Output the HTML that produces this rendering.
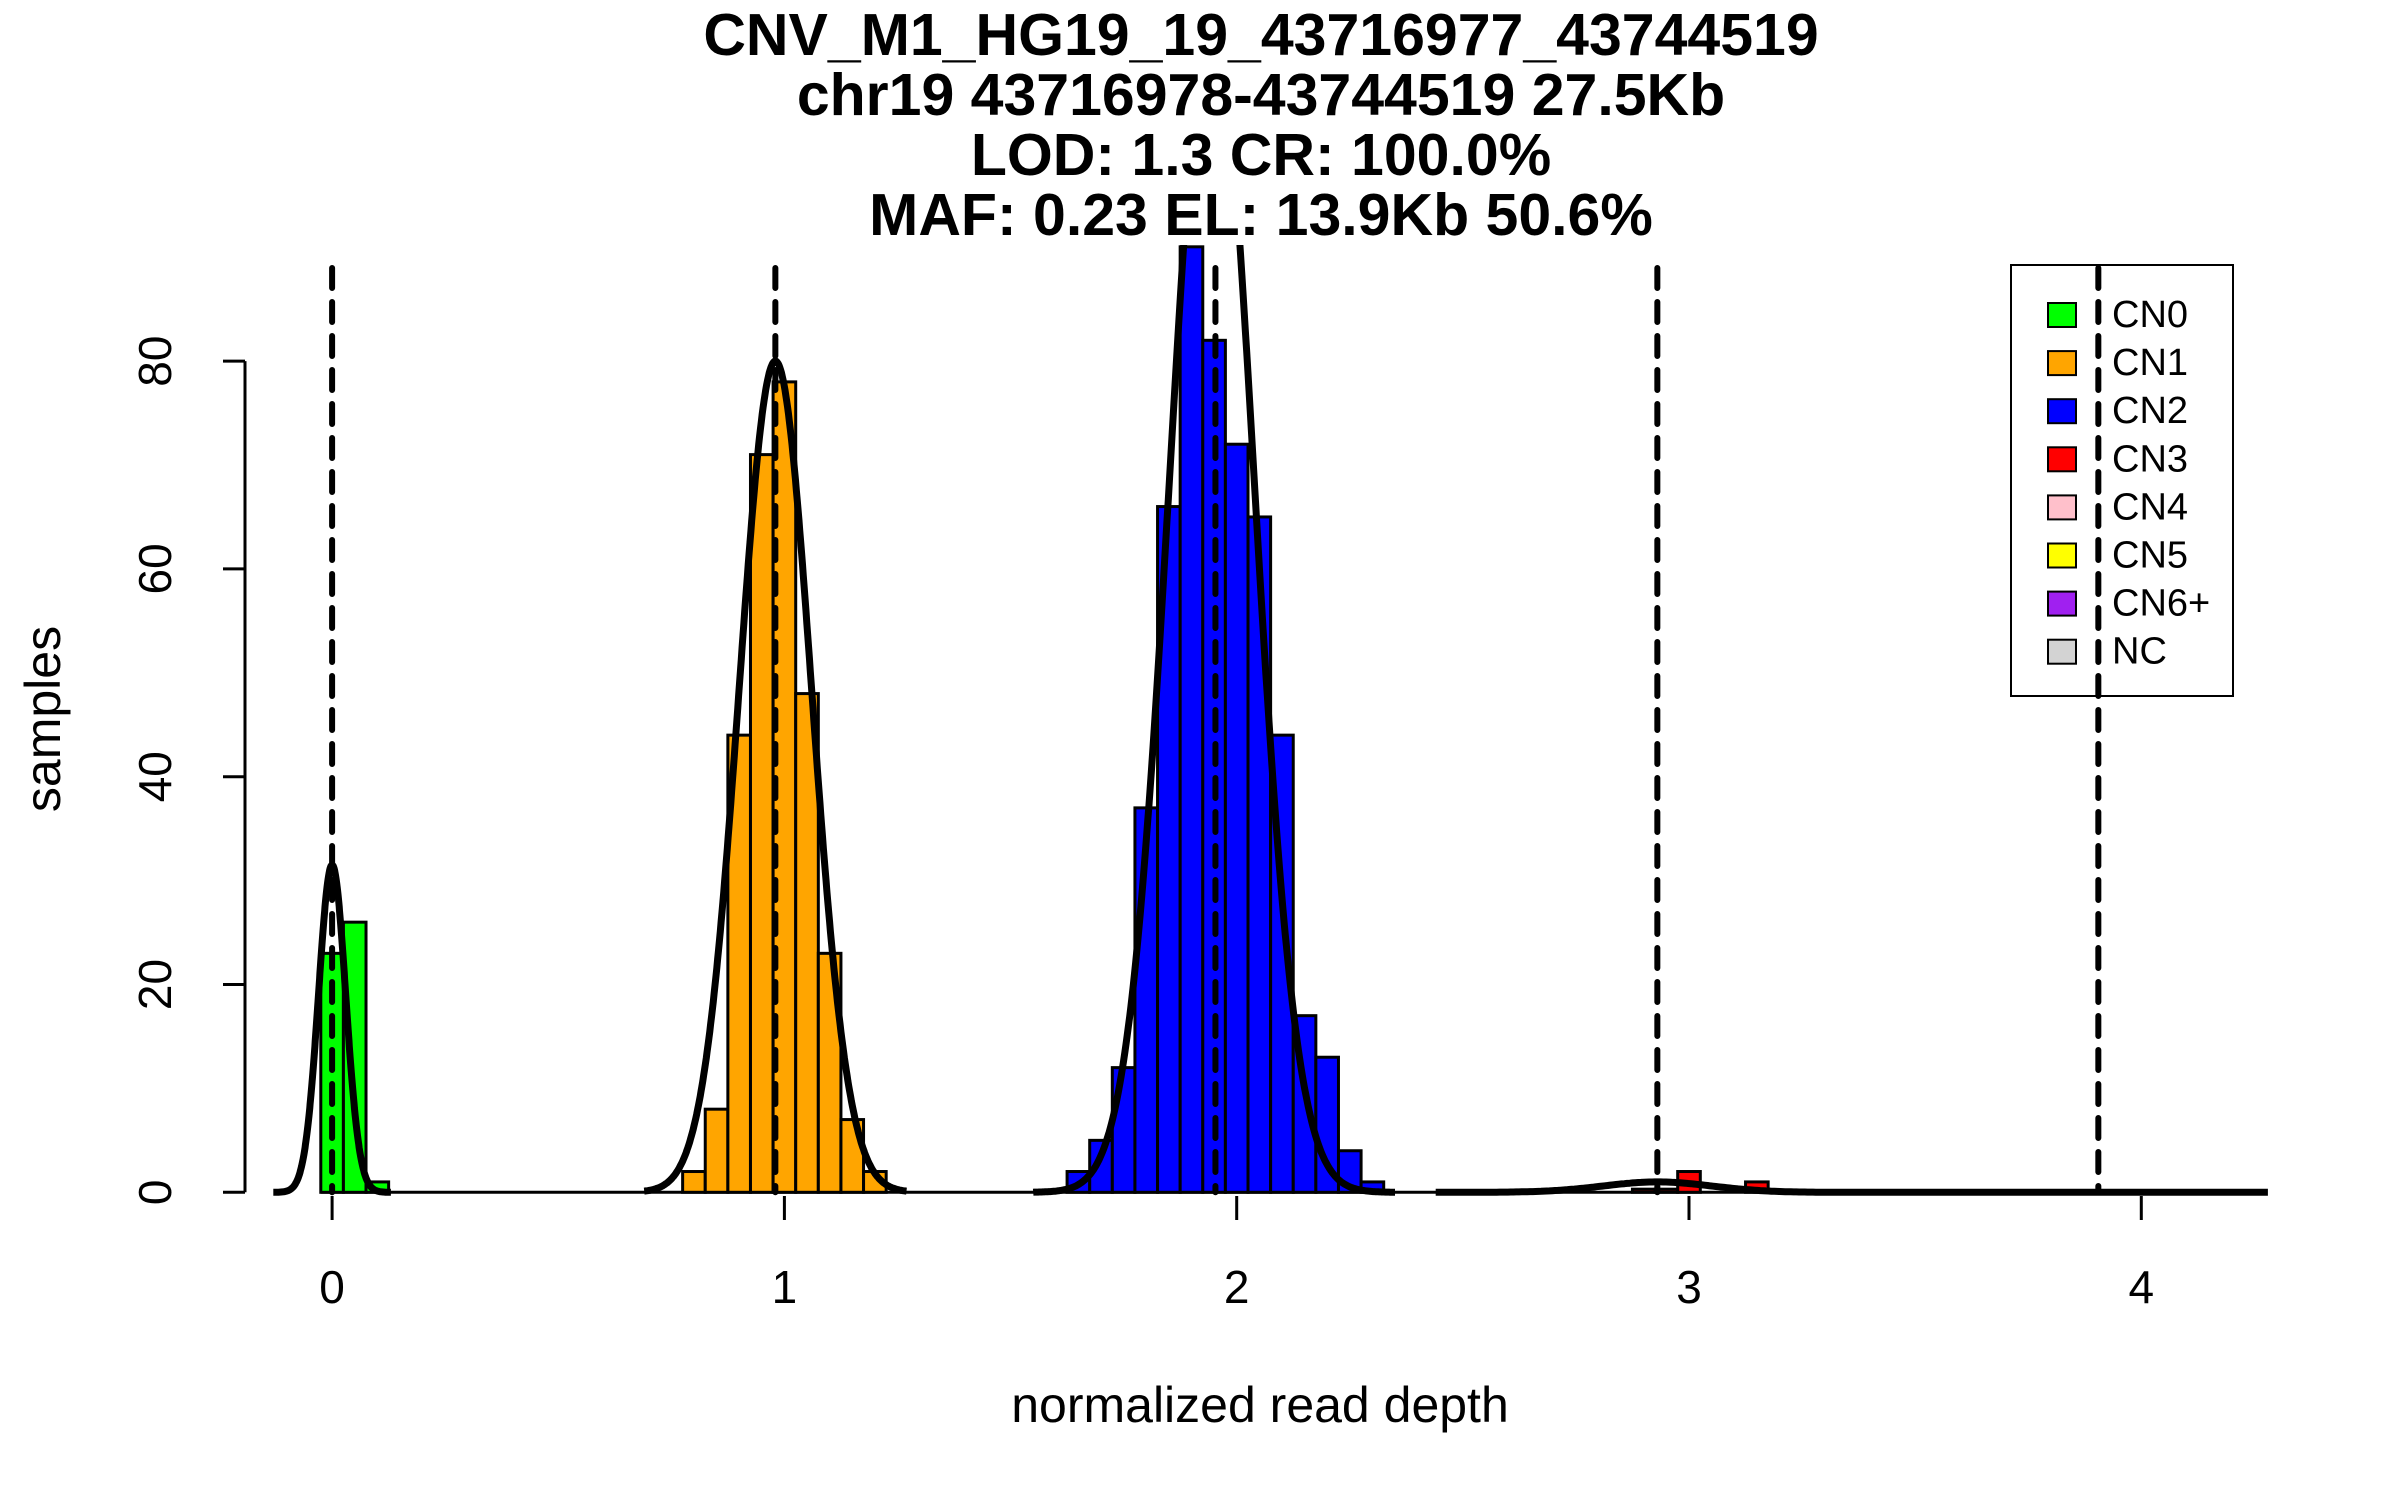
<!DOCTYPE html>
<html><head><meta charset="utf-8"><style>
html,body{margin:0;padding:0;background:#fff;}
svg{display:block;font-family:"Liberation Sans",Arial,sans-serif;}
</style></head><body>
<svg id="chart" width="2400" height="1500" viewBox="0 0 2400 1500">
<defs><clipPath id="plotclip"><rect x="245" y="245" width="2050" height="1000"/></clipPath></defs>
<g font-weight="bold" font-size="59" text-anchor="middle" dominant-baseline="central">
<text x="1261" y="35">CNV_M1_HG19_19_43716977_43744519</text>
<text x="1261" y="95">chr19 43716978-43744519 27.5Kb</text>
<text x="1261" y="155">LOD: 1.3 CR: 100.0%</text>
<text x="1261" y="215">MAF: 0.23 EL: 13.9Kb 50.6%</text>
</g>
<g id="bars" clip-path="url(#plotclip)"></g>
<g id="curves" clip-path="url(#plotclip)"></g>
<g id="vlines"></g>
<g id="axes"></g>
<text x="43" y="719" font-size="50" text-anchor="middle" dominant-baseline="central" transform="rotate(-90 43 719)">samples</text>
<text x="1260" y="1405" font-size="50" text-anchor="middle" dominant-baseline="central">normalized read depth</text>
<g id="legend"></g>
</svg>
<script>
const binWidth = 0.05;
const histRange = [-0.025, 4.125];
const cn0Starts = [-0.025, 0.025, 0.075];
const cn0Counts = [23, 26, 1];
const cn1Starts = [0.775, 0.825, 0.875, 0.925, 0.975, 1.025, 1.075, 1.125, 1.175];
const cn1Counts = [2, 8, 44, 71, 78, 48, 23, 7, 2];
const cn2Starts = [1.625, 1.675, 1.725, 1.775, 1.825, 1.875, 1.925, 1.975, 2.025, 2.075, 2.125, 2.175, 2.225, 2.275];
const cn2Counts = [2, 5, 12, 37, 66, 91, 82, 72, 65, 44, 17, 13, 4, 1];
const cn3Starts = [2.875, 2.925, 2.975, 3.125];
const cn3Counts = [0.3, 0.3, 2, 1];
const fitMeans = [0, 0.98, 1.945, 2.93];
const fitSds = [0.03, 0.08, 0.093, 0.12];
const fitPeaks = [31.5, 80, 114, 1];
const fitFrom = [-0.13, 0.69, 1.55, 2.44];
const fitTo = [0.13, 1.27, 2.35, 4.28];
const cnLines = [0, 0.98, 1.953, 2.93, 3.905];
const xTicks = [0, 1, 2, 3, 4];
const yTicks = [0, 20, 40, 60, 80];
const legendLabels = ["CN0","CN1","CN2","CN3","CN4","CN5","CN6+","NC"];
const legendColors = ["#00ff00","#ffa500","#0000ff","#ff0000","#ffc0cb","#ffff00","#a020f0","#d3d3d3"];

const NS = "http://www.w3.org/2000/svg";
const X = v => 332.1 + 452.3 * v;
const Y = c => 1192.3 - 10.39 * c;
function mk(tag, attrs, parent){ const e=document.createElementNS(NS,tag); for(const k in attrs) e.setAttribute(k,attrs[k]); parent.appendChild(e); return e; }

const barsG = document.getElementById('bars');
const base = mk('line',{x1:X(histRange[0]),x2:X(histRange[1]),y1:Y(0),y2:Y(0),stroke:'#000','stroke-width':3},barsG);


function drawBars(starts, counts, color, name){
  starts.forEach((s,i)=>{
    const r = mk('rect',{x:X(s),y:Y(counts[i]),width:X(s+binWidth)-X(s),height:Y(0)-Y(counts[i]),fill:color,stroke:'#000','stroke-width':3},barsG);
    
    
  });
}
drawBars(cn0Starts, cn0Counts, '#00ff00', 'cn0');
drawBars(cn1Starts, cn1Counts, '#ffa500', 'cn1');
drawBars(cn2Starts, cn2Counts, '#0000ff', 'cn2');
drawBars(cn3Starts, cn3Counts, '#ff0000', 'cn3');

const curvesG = document.getElementById('curves');
fitMeans.forEach((m,i)=>{
  let d='';
  const n=300;
  for(let k=0;k<=n;k++){
    const v = fitFrom[i] + (fitTo[i]-fitFrom[i])*k/n;
    const c = fitPeaks[i]*Math.exp(-((v-m)*(v-m))/(2*fitSds[i]*fitSds[i]));
    d += (k?'L':'M') + X(v).toFixed(1) + ' ' + Y(c).toFixed(1);
  }
  const p = mk('path',{d:d,fill:'none',stroke:'#000','stroke-width':7,'stroke-linejoin':'round'},curvesG);
  
  
});

const vG = document.getElementById('vlines');
cnLines.forEach((v,i)=>{
  const l = mk('line',{x1:X(v),x2:X(v),y1:268,y2:Y(0),stroke:'#000','stroke-width':6,'stroke-dasharray':'20 14','stroke-linecap':'round'},vG);
  
  
});

const axG = document.getElementById('axes');
xTicks.forEach(t=>{
  const tk = mk('line',{x1:X(t),x2:X(t),y1:1196,y2:1220,stroke:'#000','stroke-width':3},axG);
  
  
  const tx = mk('text',{x:X(t),y:1287,'font-size':46,'text-anchor':'middle','dominant-baseline':'central'},axG);
  tx.textContent = t;
  
  
});
const yl = mk('line',{x1:245,x2:245,y1:Y(yTicks[0]),y2:Y(yTicks[yTicks.length-1]),stroke:'#000','stroke-width':3},axG);


yTicks.forEach(t=>{
  const tk = mk('line',{x1:223,x2:245,y1:Y(t),y2:Y(t),stroke:'#000','stroke-width':3},axG);
  
  
  const tx = mk('text',{x:155,y:Y(t),'font-size':46,'text-anchor':'middle','dominant-baseline':'central',transform:'rotate(-90 155 '+Y(t)+')'},axG);
  tx.textContent = t;
  
  
});

const lg = document.getElementById('legend');
const box = mk('rect',{x:2011,y:265,width:222,height:431,fill:'none',stroke:'#000','stroke-width':2},lg);


legendLabels.forEach((lab,i)=>{
  const cy = 315 + i*48.1;
  const sq = mk('rect',{x:2048,y:cy-12,width:28,height:24,fill:legendColors[i],stroke:'#000','stroke-width':2},lg);
  
  
  const tx = mk('text',{x:2112,y:cy,'font-size':38,'dominant-baseline':'central'},lg);
  tx.textContent = lab;
  
  
});
</script>
</body></html>
